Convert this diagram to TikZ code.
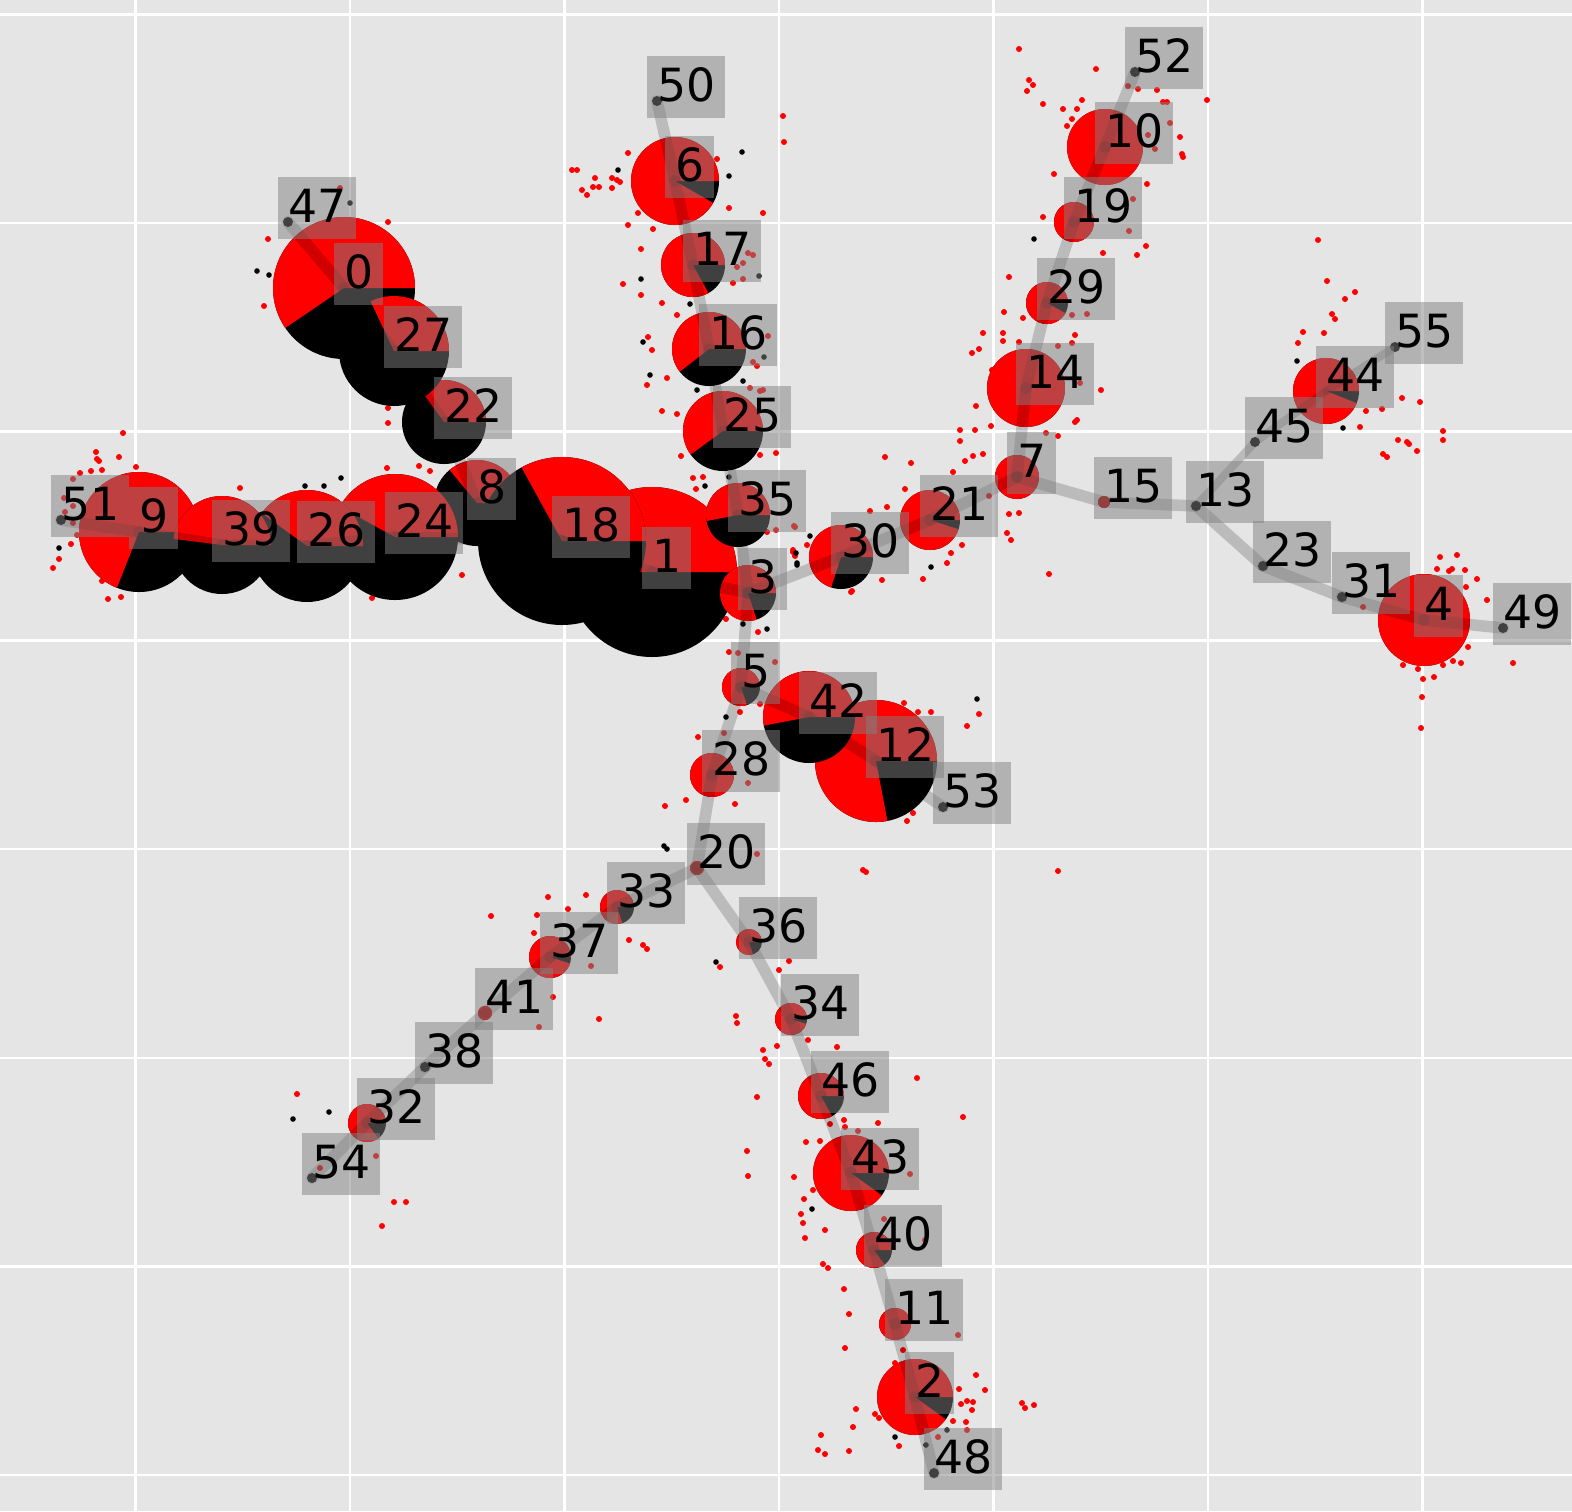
\documentclass[tikz,border=0pt]{standalone}
\usepackage{fontspec}
\setmainfont{DejaVu Sans}
\definecolor{panelgray}{RGB}{229,229,229}
\definecolor{boxgray}{RGB}{128,128,128}
\tikzset{
  gridline/.style={white,line width=0.025cm},
  pagaedge/.style={draw=black,draw opacity=0.18,line width=0.115cm,line cap=round},
  thinedge/.style={pagaedge,line width=0.08cm},
  nlabel/.style={fill=boxgray,fill opacity=0.5,text opacity=1,anchor=base west,
    xshift=-0.1cm,inner xsep=0.1cm,inner ysep=0.04cm,outer sep=0pt,
    text height=0.41cm,text depth=0.13cm,font=\fontsize{13}{15}\selectfont},
}
% pie node: index, x, y, radius, red share (red runs counter-clockwise from east)
\newcommand{\pienode}[5]{%
  \coordinate (n#1) at (#2,#3);
  \fill[black] (n#1) circle[radius=#4];
  \fill[red] (n#1) -- ++(#4,0) arc[start angle=0,end angle={-360*#5},radius=#4] -- cycle;
}

\begin{document}
\begin{tikzpicture}[x=0.01cm,y=-0.01cm]
% ---------- panel and grid ----------
\useasboundingbox (0,0) rectangle (1572,1511);
\fill[panelgray] (0,0) rectangle (1572,1511);
\foreach \gx in {135.7,350.2,564.7,779.2,993.7,1208.2,1422.7}
  \draw[gridline] (\gx,0) -- (\gx,1511);
\foreach \gy in {14.3,223,431.7,640.4,849.1,1057.8,1266.5,1475.2}
  \draw[gridline] (0,\gy) -- (1572,\gy);
% ---------- cells ----------
\foreach \x/\y in {123/433,96/452,97/459,99/461,119/457,136/467,102/470,91/471,80/473,73/479,64/498,73/506,65/512,73/523,77/535,71/544,59/559,53/568,102/581,108/599,121/597,
  268/239,264/306,388/222,340/188,388/408,388/423,240/488,419/466,430/471,387/468,462/575,372/598,
  783/116,784/142,628/153,572/170,577/170,595/178,612/178,617/180,620/182,582/190,587/195,593/187,599/187,612/188,717/159,638/213,628/225,653/229,729/208,763/213,641/249,623/284,641/295,662/303,677/315,737/267,743/263,753/255,748/253,733/283,743/279,648/337,652/350,667/378,647/385,753/362,757/366,768/336,750/388,760/391,763/390,662/411,677/414,681/456,760/455,776/453,703/477,696/489,693/478,767/532,776/530,794/526,793/552,795/556,758/632,726/619,852/591,807/545,
  1019/49,1029/80,1027/91,1033/85,1096/69,1043/104,1082/100,1077/109,1063/109,1072/119,1067/126,1138/89,1157/90,1128/86,1163/102,1167/102,1207/100,1180/137,1182/154,1183/157,1155/149,1148/135,1170/123,1054/174,1147/184,1043/217,1133/199,1129/231,1103/253,1137/255,1146/246,1009/277,1004/312,1023/318,1072/315,1087/314,983/333,1003/333,1003/341,1019/342,972/353,979/349,1075/335,1072/343,1058/346,1101/390,1080/383,992/370,976/406,991/426,960/430,975/430,960/441,1075/422,1077/420,1046/433,1058/436,885/457,911/463,973/456,983/454,965/461,953/472,905/489,887/507,870/511,989/496,1009/514,1019/513,1007/533,1011/540,962/545,951/553,947/563,923/579,882/580,851/592,1049/574,795/527,793/550,1058/871,863/870,
  1327/281,1355/292,1345/299,1332/314,1335/319,1303/332,1324/333,1298/343,1402/398,1420/402,1366/411,1382/409,1360/427,1443/431,1443/440,1398/440,1407/442,1409/444,1417/451,1383/454,1387/457,1440/557,1457/555,1437/569,1449/571,1465/570,1452/569,1477/579,1466/587,1487/600,1468/647,1453/661,1461/663,1443/665,1403/665,1418/669,1434/677,1423/679,1422/697,1513/663,1363/607,1318/240,1421/728,
  729/652,738/653,775/662,740/712,698/737,724/733,748/783,686/800,735/804,757/854,866/872,979/714,967/726,904/703,918/712,931/712,913/813,907/821,760/704,665/806,
  548/897,586/895,491/916,537/915,568/909,534/933,629/940,643/945,647/949,720/967,591/966,553/997,599/1019,539/1027,297/1094,376/1156,320/1168,394/1202,406/1202,382/1226,
  789/961,779/970,736/1016,737/1023,763/1050,765/1059,769/1064,777/1046,808/1040,837/1047,757/1097,917/1078,963/1117,830/1124,844/1120,845/1127,878/1123,858/1131,806/1142,820/1141,747/1151,748/1176,794/1177,910/1174,813/1190,804/1199,801/1214,803/1223,805/1238,825/1230,823/1264,828/1268,884/1219,925/1240,844/1289,849/1314,845/1348,958/1335,903/1350,895/1363,976/1375,985/1390,959/1389,967/1401,973/1402,961/1404,972/1410,966/1422,967/1430,953/1421,1022/1403,1025/1408,1034/1405,856/1409,875/1414,879/1418,853/1427,821/1435,818/1450,825/1454,849/1451,899/1446,938/1437}
  \fill[red] (\x,\y) circle[radius=3];
\foreach \x/\y in {59/548,257/271,269/275,350/203,305/486,324/486,341/478,618/170,742/152,729/176,641/279,690/304,759/276,643/342,650/375,697/390,743/381,764/357,705/486,729/477,810/536,797/565,743/624,767/629,1034/239,931/567,796/553,797/563,1297/361,1343/428,726/717,977/699,664/846,667/849,716/962,293/1119,329/1112,812/1209,895/1437,947/1430,926/1445}
  \fill[black] (\x,\y) circle[radius=2.8];
% ---------- pie nodes, drawn in index order ----------
\pienode{0}{344}{288}{71}{0.595}
\pienode{1}{652}{572}{85}{0.5}
\pienode{2}{915}{1397}{38}{0.9}
\pienode{3}{748}{593}{28}{0.8}
\pienode{4}{1424}{620}{46}{1}
\pienode{5}{741}{687}{19}{0.8}
\pienode{6}{675}{181}{44}{0.917}
\pienode{7}{1017}{477}{22}{1}
\pienode{8}{477}{503}{43}{0.36}
\pienode{9}{139}{532}{60}{0.69}
\pienode{10}{1105}{147}{38}{1}
\pienode{11}{895}{1324}{16}{1}
\pienode{12}{876}{761}{61}{0.78}
\pienode{13}{1196}{506}{5}{0}
\pienode{14}{1026}{388}{39}{1}
\pienode{15}{1104}{502}{6}{1}
\pienode{16}{709}{349}{37}{0.605}
\pienode{17}{693}{265}{32}{0.83}
\pienode{18}{562}{541}{84}{0.33}
\pienode{19}{1074}{222}{20}{1}
\pienode{20}{697}{868}{7}{1}
\pienode{21}{930}{520}{30}{0.95}
\pienode{22}{444}{422}{42}{0.35}
\pienode{23}{1263}{566}{5}{0}
\pienode{24}{395}{537}{63}{0.42}
\pienode{25}{723}{431}{40}{0.6}
\pienode{26}{307}{546}{56}{0.4}
\pienode{27}{394}{351}{55}{0.32}
\pienode{28}{712}{775}{22}{1}
\pienode{29}{1047}{303}{21}{0.92}
\pienode{30}{841}{557}{32}{0.7}
\pienode{31}{1342}{597}{5}{0}
\pienode{32}{367}{1123}{19}{0.85}
\pienode{33}{617}{907}{17}{0.8}
\pienode{34}{791}{1019}{16}{0.95}
\pienode{35}{738}{515}{32}{0.53}
\pienode{36}{749}{942}{13}{0.8}
\pienode{37}{550}{957}{21}{0.95}
\pienode{38}{425}{1067}{5}{0}
\pienode{39}{222}{545}{49}{0.48}
\pienode{40}{874}{1250}{18}{0.85}
\pienode{41}{485}{1013}{7}{1}
\pienode{42}{809}{717}{46}{0.53}
\pienode{43}{851}{1173}{38}{0.9}
\pienode{44}{1326}{391}{33}{0.94}
\pienode{45}{1255}{442}{5}{0}
\pienode{46}{821}{1096}{23}{0.83}
\pienode{47}{288}{222}{5}{0}
\pienode{48}{934}{1473}{5}{0}
\pienode{49}{1503}{628}{5}{0}
\pienode{50}{657}{101}{5}{0}
\pienode{51}{61}{520}{5}{0}
\pienode{52}{1135}{72}{5}{0}
\pienode{53}{943}{807}{5}{0}
\pienode{54}{312}{1178}{5}{0}
\pienode{55}{1395}{347}{5}{0}
% ---------- edges ----------
\foreach \a/\b in {47/0,0/27,27/22,22/8,8/18,18/1,1/3,51/9,9/39,39/26,26/24,24/18,
  50/6,6/17,17/16,16/25,25/35,35/3,3/30,30/21,21/7,7/14,14/29,29/19,19/10,10/52,
  7/15,15/13,13/23,23/31,31/4,4/49,3/5,5/28,28/20,20/33,33/37,37/41,41/38,38/32,32/54,
  20/36,36/34,34/46,46/43,43/40,40/11,11/2,2/48,5/42,42/12,12/53}
  \draw[pagaedge] (n\a) -- (n\b);
\foreach \a/\b in {13/45,45/44,44/55}
  \draw[thinedge] (n\a) -- (n\b);
% ---------- labels ----------
\foreach \i in {0,...,55}
  \node[nlabel] (t\i) at (n\i) {\i};
\end{tikzpicture}
\end{document}
